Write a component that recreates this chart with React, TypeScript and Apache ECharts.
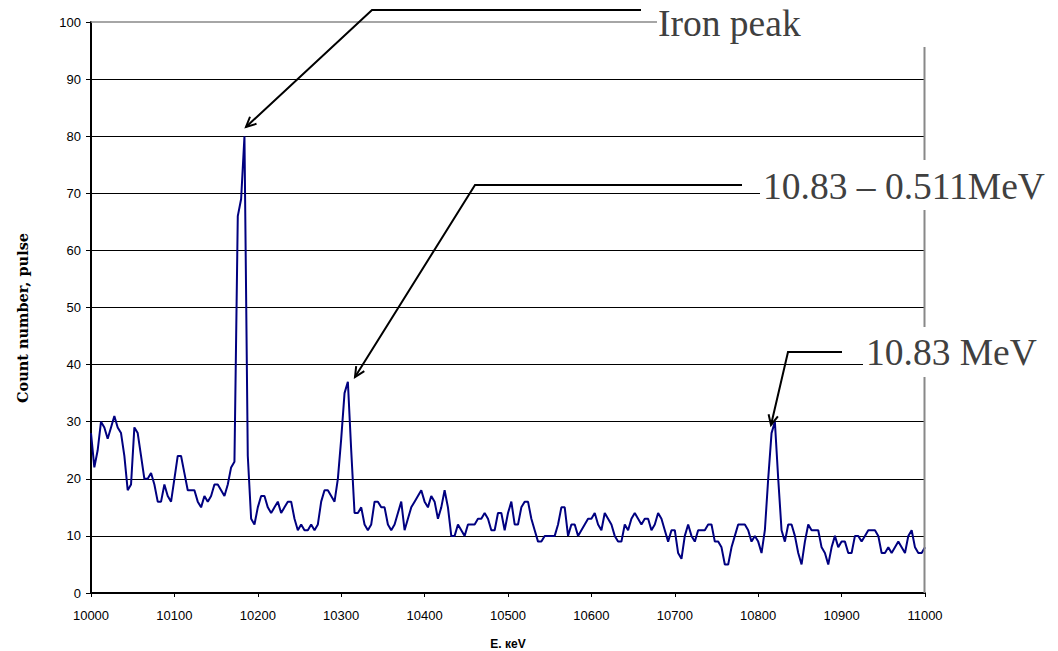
import React, { useEffect, useRef } from "react";
import * as echarts from "echarts";

// Energy channels: 10000 keV, 4 keV per channel
const ENERGY_START = 10000;
const ENERGY_STEP = 4;

// Count values per channel
const counts = [
  28, 22, 25, 30, 29, 27, 29, 31, 29, 28,
  24, 18, 19, 29, 28, 24, 20, 20, 21, 19,
  16, 16, 19, 17, 16, 20, 24, 24, 21, 18,
  18, 18, 16, 15, 17, 16, 17, 19, 19, 18,
  17, 19, 22, 23, 66, 69, 80, 24, 13, 12,
  15, 17, 17, 15, 14, 15, 16, 14, 15, 16,
  16, 13, 11, 12, 11, 11, 12, 11, 12, 16,
  18, 18, 17, 16, 20, 27, 35, 37, 25, 14,
  14, 15, 12, 11, 12, 16, 16, 15, 15, 12,
  11, 12, 14, 16, 11, 13, 15, 16, 17, 18,
  16, 15, 17, 16, 13, 15, 18, 15, 10, 10,
  12, 11, 10, 12, 12, 12, 13, 13, 14, 13,
  11, 11, 14, 14, 11, 14, 16, 12, 12, 15,
  16, 16, 13, 11, 9, 9, 10, 10, 10, 10,
  12, 15, 15, 10, 12, 12, 10, 11, 12, 13,
  13, 14, 12, 11, 14, 13, 12, 10, 9, 9,
  12, 11, 13, 14, 13, 12, 13, 13, 11, 12,
  14, 13, 11, 9, 11, 11, 7, 6, 10, 12,
  10, 9, 11, 11, 11, 12, 12, 9, 9, 8,
  5, 5, 8, 10, 12, 12, 12, 11, 9, 10,
  9, 7, 11, 20, 28, 30, 20, 11, 9, 12,
  12, 10, 7, 5, 9, 12, 11, 11, 11, 8,
  7, 5, 8, 10, 8, 9, 9, 7, 7, 10,
  10, 9, 10, 11, 11, 11, 10, 7, 7, 8,
  7, 8, 9, 8, 7, 10, 11, 8, 7, 7,
  8,
];

const X_MIN = 10000;
const X_MAX = 11000;
const X_INTERVAL = 100;
const Y_MIN = 0;
const Y_MAX = 100;
const Y_INTERVAL = 10;

const annotationLabels = ["Iron peak", "10.83 \u2013 0.511MeV", "10.83 MeV"];
const xAxisTitle = "E. \u043aeV";
const yAxisTitle = "Count number, pulse";

function arrowHead(ex: number, ey: number, tx: number, ty: number, len = 11, ang = 0.45) {
  const dx = tx - ex;
  const dy = ty - ey;
  const L = Math.hypot(dx, dy);
  const vx = -dx / L;
  const vy = -dy / L;
  const rot = (a: number) => [
    tx + len * (vx * Math.cos(a) - vy * Math.sin(a)),
    ty + len * (vx * Math.sin(a) + vy * Math.cos(a)),
  ];
  return [rot(ang), [tx, ty], rot(-ang)];
}

function callout(points: number[][], z: number) {
  const n = points.length;
  const e = points[n - 2];
  const t = points[n - 1];
  return [
    {
      type: "polyline",
      shape: { points },
      style: { stroke: "#000", lineWidth: 2, fill: null },
      z,
    },
    {
      type: "polyline",
      shape: { points: arrowHead(e[0], e[1], t[0], t[1]) },
      style: { stroke: "#000", lineWidth: 2, fill: null },
      z,
    },
  ];
}

export default function App() {
  const ref = useRef<HTMLDivElement>(null);

  useEffect(() => {
    if (!ref.current) return;
    const chart = echarts.init(ref.current, null, { renderer: "svg" });
    const data = counts.map((c, i) => [ENERGY_START + ENERGY_STEP * i, c]);
    const labelFont = "'Liberation Serif', 'Times New Roman', serif";
    const titleFont = "'DejaVu Serif', serif";
    const axisFont = "'Liberation Sans', Arial, sans-serif";

    chart.setOption({
      animation: false,
      backgroundColor: "#fff",
      grid: { left: 91, top: 22, width: 834, height: 571, show: false },
      xAxis: {
        type: "value",
        min: X_MIN,
        max: X_MAX,
        interval: X_INTERVAL,
        axisLine: { show: true, onZero: false, lineStyle: { color: "#000", width: 2 } },
        axisTick: { show: true, length: 4, lineStyle: { color: "#000", width: 1 } },
        axisLabel: {
          color: "#000",
          fontSize: 13,
          fontFamily: axisFont,
          margin: 16,
          formatter: (v: number) => String(v),
        },
        splitLine: { show: false },
      },
      yAxis: {
        type: "value",
        min: Y_MIN,
        max: Y_MAX,
        interval: Y_INTERVAL,
        axisLine: { show: true, lineStyle: { color: "#000", width: 2 } },
        axisTick: { show: true, length: 5, lineStyle: { color: "#000", width: 1 } },
        axisLabel: {
          color: "#000",
          fontSize: 13,
          fontFamily: axisFont,
          margin: 10,
        },
        splitLine: {
          show: true,
          showMaxLine: false,
          lineStyle: { color: "#000", width: 1 },
        },
      },
      series: [
        {
          type: "line",
          data,
          showSymbol: false,
          symbol: "none",
          lineStyle: { color: "#000080", width: 2 },
          itemStyle: { color: "#000080" },
          z: 3,
        },
      ],
      graphic: [
        // plot-area border (top and right), gray
        { type: "line", shape: { x1: 91, y1: 22, x2: 925, y2: 22 }, style: { stroke: "#888", lineWidth: 1.5 }, z: 50 },
        { type: "line", shape: { x1: 924.5, y1: 22, x2: 924.5, y2: 593 }, style: { stroke: "#888", lineWidth: 2 }, z: 50 },
        // opaque text boxes
        { type: "rect", shape: { x: 657, y: 0, width: 401, height: 47 }, style: { fill: "#fff" }, z: 60 },
        { type: "rect", shape: { x: 760, y: 160, width: 298, height: 50 }, style: { fill: "#fff" }, z: 60 },
        { type: "rect", shape: { x: 863, y: 327, width: 195, height: 50 }, style: { fill: "#fff" }, z: 60 },
        // callouts
        ...callout([[641, 10], [372, 10], [246, 127]], 70),
        ...callout([[742, 185], [475, 185], [355, 377]], 70),
        ...callout([[842, 352], [788, 352], [771, 425]], 70),
        // annotation texts
        {
          type: "text",
          x: 658,
          y: 23,
          style: { text: annotationLabels[0], font: `37.5px ${labelFont}`, fill: "#404040", align: "left", verticalAlign: "middle" },
          z: 80,
        },
        {
          type: "text",
          x: 763,
          y: 186,
          style: { text: annotationLabels[1], font: `37.5px ${labelFont}`, fill: "#404040", align: "left", verticalAlign: "middle" },
          z: 80,
        },
        {
          type: "text",
          x: 866,
          y: 352,
          style: { text: annotationLabels[2], font: `37.5px ${labelFont}`, fill: "#404040", align: "left", verticalAlign: "middle" },
          z: 80,
        },
        // axis titles
        {
          type: "text",
          x: 508,
          y: 644,
          style: { text: xAxisTitle, font: `bold 12px ${axisFont}`, fill: "#000", align: "center", verticalAlign: "middle" },
          z: 80,
        },
        {
          type: "text",
          x: 22,
          y: 318,
          rotation: Math.PI / 2,
          style: { text: yAxisTitle, font: `bold 14.5px ${titleFont}`, fill: "#000", align: "center", verticalAlign: "middle" },
          z: 80,
        },
      ],
    });

    return () => chart.dispose();
  }, []);

  return (
    <div
      ref={ref}
      style={{ position: "fixed", left: 0, top: 0, width: 1058, height: 651, background: "#fff" }}
    />
  );
}
